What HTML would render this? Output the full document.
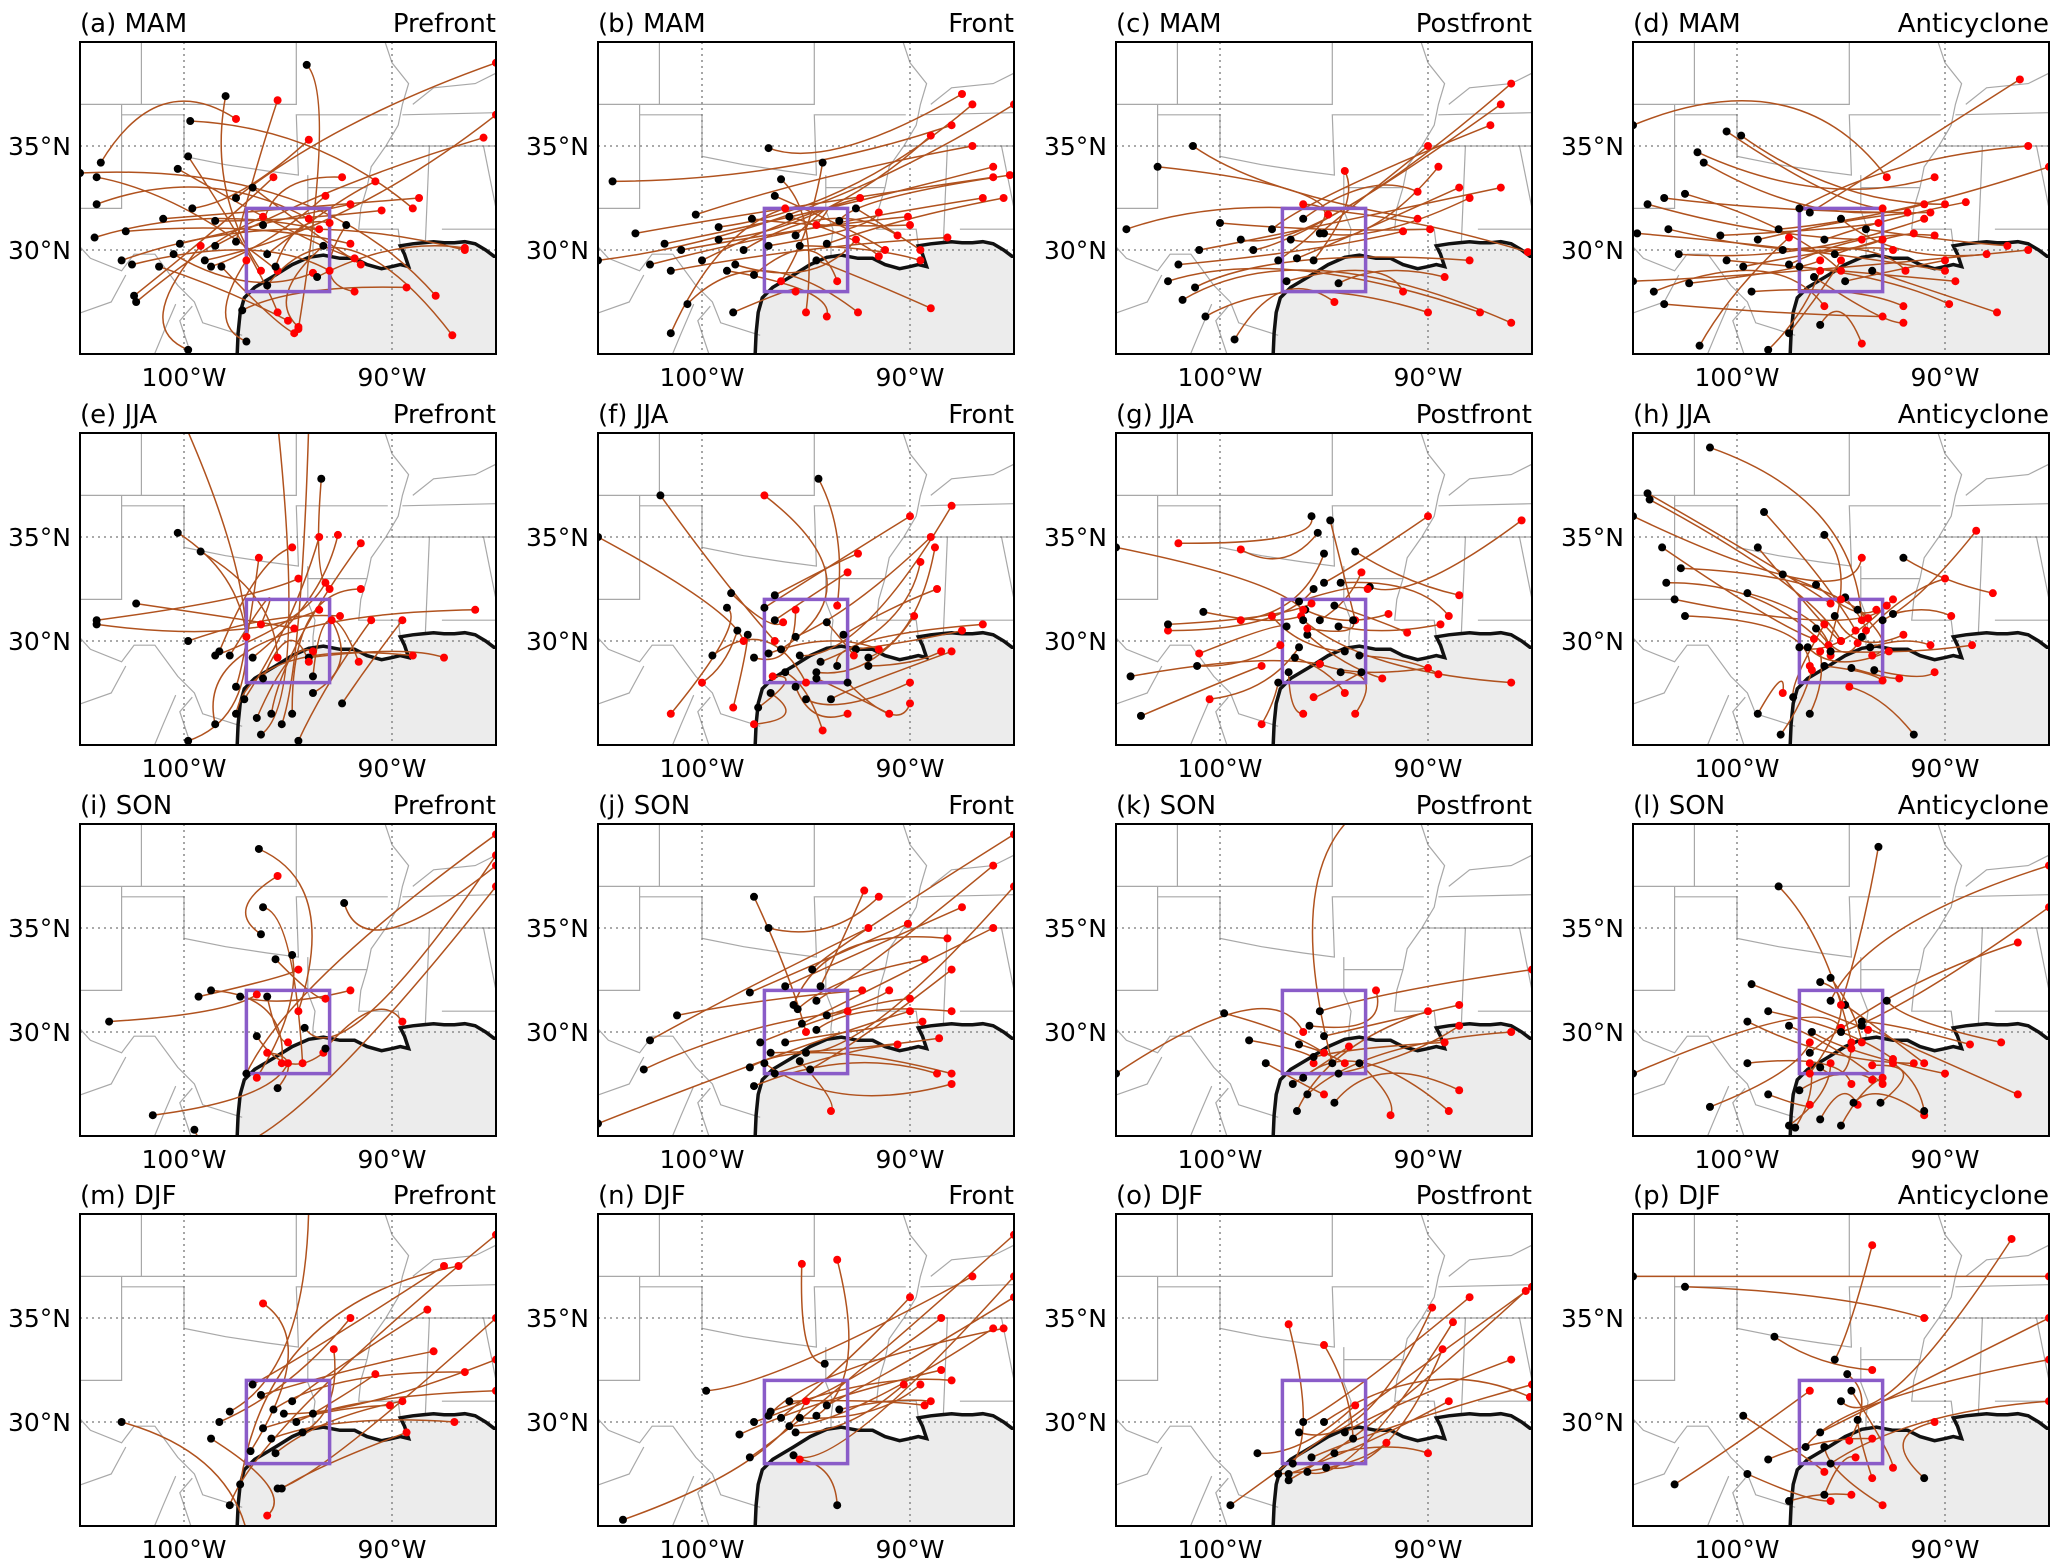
<!DOCTYPE html>
<html><head><meta charset="utf-8"><style>
html,body{margin:0;padding:0;background:#fff;}
svg{display:block;font-family:"DejaVu Sans","Liberation Sans",sans-serif;}
</style></head><body>
<svg id="fig" width="2067" height="1565" viewBox="0 0 2067 1565" xmlns="http://www.w3.org/2000/svg"></svg>
<script>
const panelLetters = ["a","b","c","d","e","f","g","h","i","j","k","l","m","n","o","p"];
const seasons = ["MAM","JJA","SON","DJF"];
const regimes = ["Prefront","Front","Postfront","Anticyclone"];
const lonTicks = [-100,-90];
const lonTickLabels = ["100°W","90°W"];
const latTicks = [35,30];
const latTickLabels = ["35°N","30°N"];
const targetBox = [-97,-93,28,32];
// tracks: [lonW0,lat0, lonWmid,latMid, lonW1,lat1] start(black) -> end(red)
const tracksA=[[104,34.2,101,37,97.5,36.3],[104.2,33.5,100,32,95.5,29],[104.2,32.2,99,33,94,31.5],[104.3,30.6,99,31.5,93.5,31],[102.8,30.9,97,31,92,30.3],[102.5,29.3,97,30,93,29],[101.2,29.2,98,28,95,26.6],[102.3,27.5,99,30,96.2,31.6],[102.4,27.8,98.5,31,95.7,33.5],[100.5,29.8,97,28.5,93.8,28.9],[100.2,30.3,96,31.3,92,32.2],[98.7,29.2,96,30.5,93.2,32.6],[98.2,29.2,96,27,94.7,26],[99.7,36.2,94,35,89,32],[98,37.4,98,33,96.3,29],[99.8,34.5,97,30,95.5,27],[99.6,32,97,33,94,35.3],[98.5,31.4,95,31.5,90.5,31.9],[97.5,30.4,96.5,34,95.5,37.2],[96.7,33,94,31,91.5,29.3],[96.2,31.2,95,33,92.4,33.5],[95.6,29.2,94.5,31,93,31.3],[94.1,38.9,93.5,35,94.5,26.2],[93.3,30.2,95,28,94.5,26.3],[92.2,31.2,93,29,91.8,28],[99.8,25.2,101,27,99.2,30.2],[97,25.6,98,27,97,29.5],[101,31.5,95,32,88.7,32.5],[105,33.7,95,32.5,87.9,27.8],[103,29.5,95,31,86.5,30],[99,29.5,92,32,85,36.5],[97.5,32.5,92,36,85,39],[98.5,30.2,92.5,33,85.6,35.4],[96,28.3,92,30,87.1,25.9],[93.6,28.7,90,30,86.5,30.1],[97.2,27.1,94,28,89.3,28.2],[100.3,33.9,95,31,91.8,29.6],[96,29.8,93,32,90.8,33.3]];
const tracksB=[[104.3,33.3,96,34,88,36],[103.2,30.8,96,32,86,33.5],[102.5,29.3,95,31,86.5,32.5],[101.8,30.3,94,32,86,34],[101.5,29,95,30,88.2,30.6],[100.7,27.4,97,29,92.5,27],[101,30,95,31,90.1,31.6],[100,29.5,96,31.3,92.4,32.5],[99.2,30.5,94,32,89,35.5],[99.2,31.1,93,33,87,37],[98.4,29.3,95,29,92.6,30.5],[98,30,94,31.5,90.6,30.7],[97.6,31.5,94,31.2,90,31.2],[97.5,28.8,95,30,93.5,28.5],[96.8,30.2,93,31,91.5,31.8],[96.5,32.6,93,31,91.2,30],[96.2,33.4,95,31,95,27],[95.8,31.6,93,30.6,91.5,29.7],[94.2,34.2,95,31,96.2,28.5],[96.8,34.9,93,35,87.5,37.5],[95.3,30.2,92,30,89.5,29.5],[94.5,29.5,92,28.5,89,27.2],[93.4,31.4,91,32.5,85.2,33.6],[92.6,32,91,31,89.5,30],[105,29.5,95,32,85,37],[101.5,26,99,30,96,32],[98.8,29,95,28,94,26.8],[98.5,27,96,28,95.5,28],[94,30.3,90,31.5,85.5,32.5],[100.3,31.7,94,33.5,87,35],[95.5,30.7,94,32,94.5,31.2]];
const tracksC=[[101.3,35,97,33,90.5,31.5],[100,31.3,95,31,89.9,31],[101,30,96,31,86.5,33],[102,29.3,96,30,91.2,30.9],[101.2,28.2,96,29.5,88,29.5],[102.5,28.5,96,29,87.5,27],[101.8,27.6,95,29,86,26.5],[100.7,26.8,96,28,90,27],[99,30.5,94,32,86,38],[98.4,30,94,32,86.5,37],[97.5,31,94,33,87,36],[96.6,30.5,93,31,89.5,34],[96.3,29.6,93,31,88.5,33],[95,30.8,92,31,88,32.5],[96.8,28.5,93,29,91.2,28],[95.5,29.5,94,32,94,33.8],[97.2,29.5,95,31.5,96,32.2],[94.3,28.4,92,29,89.2,28.7],[95.2,30.8,92.5,33,90,35],[99.3,25.7,97,28,94.5,27.5],[104.5,31,96,32,85.2,29.9],[96,31.5,93,33,90.5,32.8],[103,34,97,33,94.8,31.7]];
const tracksD=[[104.3,32.2,99,31,94,30.5],[103.5,32.5,98,32,91.8,31.8],[102.5,32.7,98,31,95,29],[103.3,31,97,30,93,30.5],[102.8,29.8,97,30,91,31.5],[104,28,99,29,95.8,27.3],[103.5,27.4,98,27,93,26.8],[102.3,28.4,98,29,96,29.5],[101.9,34.7,96,33,90.5,33.5],[101.6,34.2,96,32,91,32.2],[100.5,35.7,96,33,93,32],[99.8,35.5,95,33,90,32.2],[100.8,30.7,96,31,93.2,31.3],[100.5,29.5,95,29,89.5,28.5],[99.7,29.2,95,30,92.5,30],[99.3,28,95,28,92,27.3],[99,30.5,94,31.5,90.7,31.8],[97.8,30,94,30,91.9,29],[97.5,29.3,94,30.5,90.5,30.7],[97,29.2,93,28.5,89.8,27.4],[96.3,28.7,93.5,27,92,26.5],[95.8,30.5,92.5,31.5,89,32.3],[95.3,29.8,93,30.5,91.5,30.8],[94.8,28.5,92.5,29,90,29.5],[96,26.4,95,27,94,25.5],[97.5,26,96,28,95,29.5],[98.5,25.2,97,27,96,29],[101.8,25.4,100,28,97.5,30.6],[105,36,98,37,92.8,33.5],[105,28.5,97,29,86,30],[96.5,31.8,93,34,86.4,38.2],[98,31,92,32,85,34],[97,32,92,34,86,35],[93.8,31,90,30.5,87,30.2],[93.5,29,90.5,28,87.5,27],[104.8,30.8,97,30,90,29],[95,31.5,92,30,88,29.8]];
const tracksE=[[104.2,31,98,32,94.5,33],[104.2,30.8,98,30.5,93.5,31.5],[102.3,31.8,97,31,94.7,30.6],[100.3,35.2,98,33,97,30.2],[99.2,34.3,96.5,32,95.5,29.2],[99.8,30,96,31,92.5,31.2],[98.5,29.3,95,31,93.2,32.8],[98.3,29.5,96.5,33,94.8,34.5],[96.7,29.2,94,32,92.6,35.1],[97.1,27.2,95,31,93.5,35],[96.5,26.3,95,29,93.8,29.5],[95.8,26.5,94.5,30,91.5,34.7],[96.3,25.5,95,30,95.5,40.5],[94.8,26.5,94,31,91.5,32.5],[93.8,28.3,93,31,91.6,29],[93.8,27.5,92.5,29,92.9,31],[92.4,27,91,29,89.5,31],[93.4,37.8,93.5,34,93,32.5],[94.5,25.2,93,28,91,31],[97.5,27.8,97,30,96.4,34],[97.5,26.5,95,29,89,29.3],[98.5,26,96,30,86,31.5],[99.8,25.2,97,30,100,40.5],[95.3,26,94.5,31,94,40.5],[94,29.2,90,29.5,87.5,29.2],[97.8,29.3,96,32,96.3,30.8],[96.2,28.2,95,30,94,29]];
const tracksF=[[98.8,31.6,99,30,101.5,26.5],[98.3,30.5,99,29,100,28],[97.8,30.3,98,29,98.5,26.8],[99.5,29.3,97,30,95,28],[97,31.6,94,33.5,90,36],[96.5,32.2,94,33.5,92.5,34.2],[94.4,37.8,93.5,35,93.5,31.7],[95.5,30.2,92.5,32,89,35],[95.3,29.3,92,31,88,36.5],[94.3,29,91,31,89.5,33.8],[96.2,29.6,94,33,97,37],[94.5,28.5,92,29,89.8,31.2],[93.5,28.8,92,30,86.5,30.8],[94.5,28.2,93,27.5,91,26.5],[95.5,27.8,94.5,26.5,93,26.5],[96,28.5,95,27.5,94.2,25.7],[96.7,27.5,96,26.5,97.5,26],[95,27.2,93,27,90,28],[93.8,27.2,92,28,88,29.5],[92.6,29.6,90,30,87.5,30.5],[93,28,91,26.5,90,27],[92,28.8,90,29,88.5,29.5],[96.5,31,95,32,93,33.3],[97.5,29.2,96,29.5,95.5,31.5],[98.6,32.3,97,31,96.1,30.9],[93.2,30.3,91,31.5,88.7,32.5],[92,29.2,90,31,88.8,34.5],[105,35,100,32,98,30],[102,37,99,33,96.5,30],[96.8,29.4,94,30,91.5,29.6],[97.3,26.8,96,28,96.6,28.3],[94,30.9,93,29.7,92.7,29.3]];
const tracksG=[[95.6,36,97,35,102,34.7],[95.3,35.2,97,34,99,34.4],[94.7,35.8,94,33,93.5,31],[95,34.2,96.5,32,99,31],[95.5,32.5,98,31,102.5,30.5],[93.5,34.3,91,33,88.5,32.2],[94.2,32.8,91,32.5,89,31.2],[92.8,32.6,90,33,85.5,35.8],[95.9,31.5,94,31,91.9,31.3],[96.8,30.7,98,30.5,101,29.4],[95.8,30.3,94,29,92.2,28.2],[96.2,29.7,98,28,100.5,27.2],[96.4,29.2,95,28.5,94,27.5],[96.7,28.5,96.5,27,96,26.5],[95.2,28.9,93,28.5,90,28.7],[94.2,28.5,93,28,93.5,26.5],[93.3,29.3,91,29,89.5,28.4],[94.3,30.7,92,30.5,89.4,30.8],[96.2,31.9,94,32.5,92.9,32.5],[94.5,31.7,92.5,31,91,30.4],[93.6,31,94,30.5,95.8,30.6],[97.2,28,97.5,27,98,26],[101.1,28.8,99,29,97.1,29.8],[103.8,26.4,100,28,98,28.8],[100.8,31.4,98,31,96.1,31.2],[104.3,28.3,99,29,95.2,28.9],[102.5,30.8,98,31.2,95.6,31.8],[95,32.8,93,34,90,36],[96,31,92,29,86,28],[95.2,31,94,32,93.2,33.3],[105,34.5,99,33,96,31.5],[94,29.5,96,30,97.5,31.2],[93.2,28.5,95,27.5,95.5,27.3]];
const tracksH=[[101.3,39.3,96,36,94,31],[104.3,37.1,99,34,95.5,31.8],[104.2,36.8,98,33,95,30],[103.6,34.5,99,31.5,96.3,30.1],[103.4,32.8,99,32,95.5,29.5],[102.5,31.2,98,30.5,96.5,28.8],[98.7,36.2,96,33,94.3,30.5],[97.8,33.2,95,32,93.7,31.1],[99.5,32.3,96.5,31,95.5,29.3],[95.8,35.1,95,33,95.6,29.8],[94.8,32.1,94,31,93.8,30.5],[96.2,32.7,94.5,31.5,93.3,31.5],[94.2,31.5,93,30,93.5,29.3],[95.3,31.2,94,30,92,30.3],[96.2,30.6,95,29.5,94.2,29.9],[96.6,29.7,95,29,92.7,29.5],[95.8,28.8,94,28.5,93,28.1],[94.5,28.7,93,28.3,92.2,28.2],[93.6,29.7,92,30,90.7,29.8],[92.5,31.3,91,31.5,89.7,31.2],[93.4,28.6,91.5,28.3,90.5,28.5],[97.9,25.5,97,27,96.4,28.6],[96.5,26.5,96,28,96,29.5],[97.3,27.3,97,28.5,95.8,30.8],[91.5,25.5,93,27,94.6,27.8],[102.7,33.5,98,33,95,32],[99,34.5,96,31,95,30],[105,36,97,33,94,34],[92,34,90,33,87.7,32.3],[97,29.7,95,30,92.5,32],[94,30.2,92,32,90,33],[95.5,29.5,92,29.5,88.7,29.8],[99,26.5,98,28,97.8,27.5],[103,32,96,31,92.8,31.7],[93,31,91,32.5,88.5,35.3]];
const tracksI=[[103.6,30.5,99,31,96.5,31.8],[99.3,31.7,96,32.5,94.5,33],[98.7,32,96,31,95.3,28.5],[96,31.7,95.5,30,95,29.5],[96.3,34.7,97,36,95.5,37.5],[96.4,38.8,94,36,94.5,31],[96.2,36,95,34,94.3,28.5],[94.8,33.7,95,31,96.5,27.8],[95.6,33.5,94,32,93.2,31.6],[96.5,29.8,95,28.5,93.3,29],[92.3,36.2,90,35,85,38],[95.5,27.3,95,28.5,96,29],[101.5,26,97,27,95,28.5],[99.5,25.3,95,26,85,37],[97.3,31.7,95,31.5,92,32],[94.2,30.2,91,31,85,38.5],[93.2,29.2,91,31,89.5,30.5],[97,28,93,33,85,39.5]];
const tracksJ=[[102.5,29.6,98,32,92,35],[102.8,28.2,98,30,93,31],[101.2,30.8,97,31.5,92.3,32],[97.5,36.5,96,33,95,30],[97.7,31.9,94,33.5,90.1,35.2],[96.8,35,94,35,91.5,36.5],[96,32.2,92,34,87.5,36],[95.4,31.1,93,32.5,89.3,33.5],[95.2,30.4,92,32,86,35],[94.5,30.1,92,31,88,31],[94.8,28.2,92,30,88,33],[96,29.5,93,30,89.4,30.5],[97.7,28.3,94,29,88,28],[97.5,27.4,93,28.5,88.7,28],[96.5,28,93,29,90.6,29.4],[94,30.8,92,31.5,91,32],[94.5,31.5,91,34,86,38],[95,29,91,31,85,37],[95.3,28.6,94,27,93.8,26.2],[94.3,32.2,93,35,92.2,36.8],[105,25.6,96,29,90,31],[97,28.5,93,27,88,27.5],[95.6,31.3,93,34,88.2,34.5],[97.2,29.5,93,31,90,31.6],[96.7,29,93,29.2,88.6,29.7],[94.7,33,92,35,85,39.5]];
const tracksK=[[99.8,30.9,97,30,95,29],[98.6,29.6,96,29,95.5,28.5],[97.8,28.5,96,27.5,95,27],[96.2,29.4,95,29,94,28.5],[96.5,27.5,95,28.5,93.8,29.3],[95.5,28.8,93,29.2,89.2,29.5],[95,29.8,92,30.5,88.5,31.3],[96.3,26.2,94,29,90,31],[94.5,26.6,92,28,88.5,27.2],[93.3,28.5,92,27,91.8,26],[94.3,28,91,29,88.5,30.3],[95.7,30.3,93,30.5,92.5,32],[94.6,28.5,95.5,36,93.5,40.5],[105,28,99,31,96,30],[96,27.8,93,28.5,89,26.2],[95.2,31,91,32,85,33],[95.8,27,92,29,86,30]];
const tracksL=[[98,37,96,34,94.5,29.5],[98.5,31,95,30,92.5,28.7],[99.3,32.3,96,31,93.7,30.1],[99.5,30.5,95.5,29,91.5,28.5],[97.5,30.3,95,29,93,27.5],[96.4,30,94,29,90,28],[95.5,32.6,94.5,31,94,29.5],[94.8,31.3,93,30,91,28.5],[94,30.5,92,30.2,88.8,29.4],[92.8,31.5,91,30.5,87.3,29.5],[93.2,38.9,94,35,95,31.3],[96,32.4,95,31,96.5,28],[99.5,28.5,96,28.5,94.5,27.5],[97,27.2,95,28,93.5,27.7],[98.5,27,97,26.5,96.5,26.5],[97.2,25.4,96.5,27,96.5,28.5],[96,25.8,95,27,94.2,26.5],[94.4,26.6,93,27,91,26],[93.1,26.6,92,28,93.5,28.4],[91,26.2,91.5,27.5,92.5,28.5],[101.3,26.4,98,28,96.5,29.5],[97.5,25.5,96,27,95.5,28.5],[95,25.5,94,27,93,27.8],[105,28,98,30.5,95,30.2],[96.5,29,92,32,86.5,34.3],[95,30,91,32,85,36],[95.5,31.5,92,35,85,38],[94,30.3,91,29,86.5,27],[96,28.3,95,28,94.5,29.2]];
const tracksM=[[103,30,99,28,97,24.8],[98.7,29.2,96,27,96,25.5],[98.3,30,95,32,92,35],[97.8,30.5,95,34,94,40.5],[96.7,31.8,93,34,87.5,37.5],[96.3,31.3,92,32.5,88,33.4],[95.7,30.6,92,32,86.5,32.4],[96.2,29.7,93,30.5,90.1,30.8],[95.8,29.2,92,30,87,30],[95.6,28.5,93,30,89.5,31],[94.8,31,92,33,88.3,35.4],[95.2,30.4,91,31,85,33],[95.3,26.8,93,28,89.3,29.5],[95.5,26.8,92,29,85,35],[96.8,28.6,95,33,96.2,35.7],[94.3,29.5,93,31,92.8,33.5],[97.3,27,94,34,86.8,37.5],[97.8,26,94,31,85,39],[94.6,30,91,31,85,31.5],[93.8,30.4,92,31.5,90.8,32.3]];
const tracksN=[[99.8,31.5,95,33,87,37],[98.2,29.4,94,31,88.5,32.5],[97.5,30,93,32,88.5,35],[96.7,30.5,92,31.8,88,32],[96.2,30.2,93,33,90,36],[95.8,29.8,92,31,86,34.5],[95.3,30.2,92,30.5,89.5,31.8],[95.8,31,92,31,89.3,30.8],[95.5,29.5,93,30,90.3,31.8],[94.5,30.3,93,33,93.5,37.8],[94.1,32.8,95,34,95.2,37.6],[95.6,28.4,92,30,85,37],[96.8,30.3,93,32.5,85.5,34.5],[103.8,25.3,98,28,95,31],[93.5,26,94,27.5,95.3,28.2],[97.7,28.3,93,32,85,39],[94,30.8,90,33,85,36],[93.4,30.6,91,31,89,31]];
const tracksO=[[98.2,28.5,96,29,93.5,30.8],[97.2,27.5,94,28,92,29],[96.7,27.5,93,29,89,31],[95.8,27.6,93,29,88.8,34.8],[94.9,27.8,92,29,89.3,33.5],[94.5,28.5,92,28.8,90,28.5],[94,29.5,91,31,86,33],[96.2,29.5,93,30.5,89.8,35.5],[96,30,93,32,88,36],[96.5,28,96,30.5,96.7,34.7],[93.6,29.2,94,31.5,95,33.7],[95,30,90,32,85.1,31.2],[95.6,28.3,91,30,85,31.8],[99.5,26,94,30,85,36.5],[96.7,27.2,92,30.5,85.3,36.3]];
const tracksP=[[102.5,36.5,96,36,91,35],[98.2,34.1,96,33,93.5,32.5],[99.7,30.3,97,28.5,95.8,27.6],[98.5,28.2,96,29,93.5,29.2],[99.5,27.5,97,26.5,95.5,26.2],[97.5,26.2,96,26.5,94.5,26.5],[94.7,32.3,94,31,94.6,29.1],[94.2,30.1,94,29,93.5,27.3],[95.8,26.5,95,28,94.3,28.3],[95.8,28.8,95,27.5,93,26],[95.3,33,94.5,35,93.5,38.5],[103,27,100,29,96.5,31.5],[105,37,96,37,85,37],[95,31,92,32,86.8,38.8],[96.7,28.8,93,31,85,33],[96,29.5,91,32,85,35],[95.5,28,91,30,85,31],[94.5,31.5,93,29,92.5,27.8],[91,27.3,92,29,90.5,30]];
const allTracks=[tracksA,tracksB,tracksC,tracksD,tracksE,tracksF,tracksG,tracksH,tracksI,tracksJ,tracksK,tracksL,tracksM,tracksN,tracksO,tracksP];
// geography (lon W, lat)
const coastLine=[[97.45,24.8],[97.4,26],[97.3,27],[97.1,27.7],[96.6,28.2],[95.6,28.8],[94.8,29.3],[94,29.65],[93.3,29.75],[92.5,29.6],[91.8,29.6],[91.2,29.3],[90.5,29.1],[90,29.2],[89.6,29.3],[89.2,29.2],[89.4,29.8],[89.6,30.2],[89,30.3],[88.5,30.35],[88,30.4],[87.5,30.35],[87,30.35],[86.5,30.4],[86,30.3],[85.5,30.0],[85.1,29.7],[84.8,29.7]];
const borders=[
[[106.5,31.8],[104.5,29.6],[103,29],[102.4,29.8],[101.4,29.8],[100.3,28.3],[99.5,27.5],[99.1,26.5],[97.2,25.9]],
[[106,32],[103,32],[103,37]],
[[106,37],[94.6,37],[94.6,41]],[[102.05,37],[102.05,41]],
[[103,36.5],[100,36.5],[100,34.5],[98,34.1],[96,33.8],[94.5,33.6],[94.6,36.5],[90.2,36.5]],
[[94.05,33.6],[94.05,31.9],[93.7,31],[93.8,30.2],[93.8,29.7]],
[[94.05,33],[91.2,33],[91,34],[90.3,35],[89.7,36],[89.5,37],[89.2,38],[90,39],[90.5,40.5]],
[[91.2,33],[91.5,32],[91.6,31],[89.7,31],[89.6,30.2]],
[[90.3,35],[85,35]],[[89.5,36.5],[85,36.6]],
[[88.4,30.3],[88.2,35]],[[85.6,35],[85,32],[85,31]],[[87.6,31],[85,31]],
[[89,37],[88,37.8],[86,38],[85,38.5]],
[[105.5,26.8],[103.5,27.5],[102.8,28.8]],[[99.6,24.8],[100.2,26.6],[99.6,27.3]],[[101.5,24.8],[101,26],[100.4,27.4]]];

const NS="http://www.w3.org/2000/svg";
const svg=document.getElementById('fig');
const W=416,H=312,lefts=[80,598,1116,1633],tops=[42,433,824,1214];
const LON0=-105,LON1=-85,LAT0=25,LAT1=40;
function mk(tag,attrs,parent){const e=document.createElementNS(NS,tag);for(const k in attrs)e.setAttribute(k,attrs[k]);parent.appendChild(e);return e;}
for(let p=0;p<16;p++){
  const r=Math.floor(p/4),c=p%4,L=lefts[c],T=tops[r];
  const xs=lon=>L+(lon-LON0)/(LON1-LON0)*W;
  const ys=lat=>T+(LAT1-lat)/(LAT1-LAT0)*H;
  const g=mk('g',{},svg);
  
  
  const cid='clip'+p;
  const cp=mk('clipPath',{id:cid},g);mk('rect',{x:L,y:T,width:W,height:H},cp);
  const m=mk('g',{'clip-path':'url(#'+cid+')'},g);
  let d='M'+coastLine.map(q=>xs(-q[0]).toFixed(1)+','+ys(q[1]).toFixed(1)).join('L')+'L'+xs(-84.8)+','+ys(24.8)+'Z';
  const sea=mk('path',{d:d,fill:'#ececec',stroke:'none'},m);
  
  
  borders.forEach(b=>{const bl=mk('polyline',{points:b.map(q=>xs(-q[0]).toFixed(1)+','+ys(q[1]).toFixed(1)).join(' '),fill:'none',stroke:'#a8a8a8','stroke-width':1.2},m);
    
    });
  lonTicks.forEach(v=>{mk('line',{x1:xs(v),x2:xs(v),y1:T,y2:T+H,stroke:'#777','stroke-width':1.3,'stroke-dasharray':'2,4'},m);});
  latTicks.forEach(v=>{mk('line',{x1:L,x2:L+W,y1:ys(v),y2:ys(v),stroke:'#777','stroke-width':1.3,'stroke-dasharray':'2,4'},m);});
  const coast=mk('polyline',{points:coastLine.map(q=>xs(-q[0]).toFixed(1)+','+ys(q[1]).toFixed(1)).join(' '),fill:'none',stroke:'#111','stroke-width':3.5},m);
  
  
  const tr=allTracks[p];
  tr.forEach(t=>{
    const x0=xs(-t[0]),y0=ys(t[1]),xm=xs(-t[2]),ym=ys(t[3]),x1=xs(-t[4]),y1=ys(t[5]);
    const cx=2*xm-(x0+x1)/2,cy=2*ym-(y0+y1)/2;
    const pth=mk('path',{d:`M${x0.toFixed(1)},${y0.toFixed(1)}Q${cx.toFixed(1)},${cy.toFixed(1)} ${x1.toFixed(1)},${y1.toFixed(1)}`,fill:'none',stroke:'#b0521e','stroke-width':1.5},m);
    
    
  });
  const bx=mk('rect',{x:xs(targetBox[0]),y:ys(targetBox[3]),width:xs(targetBox[1])-xs(targetBox[0]),height:ys(targetBox[2])-ys(targetBox[3]),fill:'none',stroke:'#8a5cc8','stroke-width':3.5},m);
  
  
  tr.forEach(t=>{
    const s=mk('circle',{cx:xs(-t[0]),cy:ys(t[1]),r:4,fill:'#000'},m);
    
    
    const e=mk('circle',{cx:xs(-t[4]),cy:ys(t[5]),r:4,fill:'#f00'},m);
    
    
  });
  const fr=mk('rect',{x:L,y:T,width:W,height:H,fill:'none',stroke:'#000','stroke-width':2},g);
  
  
  const t1=mk('text',{x:L,y:T-10,'font-size':26,fill:'#000'},g);t1.textContent='('+panelLetters[p]+') '+seasons[r];
  
  
  const t2=mk('text',{x:L+W,y:T-10,'font-size':26,fill:'#000','text-anchor':'end'},g);t2.textContent=regimes[c];
  
  
  lonTicks.forEach((v,i)=>{const tx=mk('text',{x:xs(v),y:T+H+32,'font-size':25,'text-anchor':'middle'},g);tx.textContent=lonTickLabels[i];
    
    });
  latTicks.forEach((v,i)=>{const tx=mk('text',{x:L-9,y:ys(v)+9,'font-size':25,'text-anchor':'end'},g);tx.textContent=latTickLabels[i];
    
    });
}
</script>
</body></html>
